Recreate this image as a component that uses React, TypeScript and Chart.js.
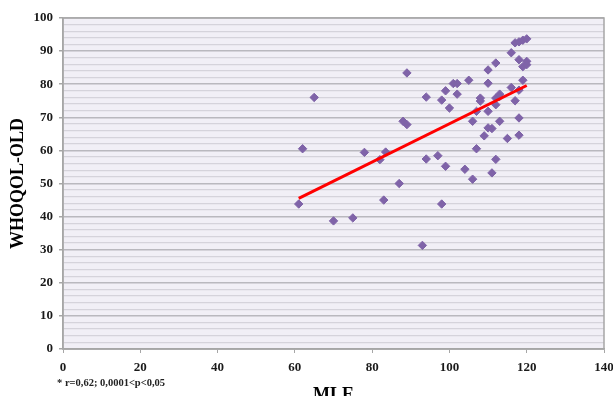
import React, { useEffect, useRef } from "react";
import { Chart, registerables } from "chart.js";

Chart.register(...registerables);

// MLE values (x) and WHOQOL-OLD values (y)
const mleValues: number[] = [
  61, 62, 65, 70, 75, 78, 82, 83.5, 83, 87, 88, 89, 89, 93, 94, 94, 97, 98, 98, 99,
  99, 100, 101, 102, 102, 104, 105, 106, 106, 107, 107, 108, 108, 109, 110, 110, 110, 110, 111, 111,
  112, 112, 112, 112, 113, 113, 113, 115, 116, 116, 117, 117, 118, 118, 118, 118, 118, 119, 119, 119,
  120, 120, 120,
];
const whoqolValues: number[] = [
  43.8, 60.5, 76, 38.7, 39.6, 59.4, 57.2, 59.5, 45, 50, 68.8, 67.8, 83.4, 31.3, 76.1, 57.4, 58.4, 43.8, 75.2, 55.2,
  78, 72.8, 80.2, 80.2, 77, 54.3, 81.2, 68.8, 51.3, 60.5, 71.8, 75.8, 74.9, 64.4, 84.3, 80.3, 71.8, 66.8, 66.6, 53.2,
  57.3, 73.8, 75.8, 86.4, 77, 68.8, 76.3, 63.6, 79, 89.5, 92.5, 75, 92.8, 87.4, 78.2, 69.8, 64.6, 93.3, 85.3, 81.2,
  93.7, 86.9, 85.9,
];

// regression line end points
const trendX: number[] = [61, 120];
const trendY: number[] = [45.5, 79.6];

const xTickStep = 20;
const yTickStep = 2;
const yLabelEvery = 10;
const yTitle = "WHOQOL-OLD";
const xTitle = "MLE";
const footnote = "* r=0,62; 0,0001<p<0,05";

const SERIF = '"Liberation Serif", "Times New Roman", serif';

export default function App() {
  const canvasRef = useRef<HTMLCanvasElement | null>(null);

  useEffect(() => {
    const canvas = canvasRef.current;
    if (!canvas) return;

    const plotBg = {
      id: "plotBg",
      beforeDraw(chart: any) {
        const { ctx, chartArea } = chart;
        ctx.save();
        ctx.fillStyle = "#f1eff6";
        ctx.fillRect(chartArea.left, chartArea.top, chartArea.right - chartArea.left, chartArea.bottom - chartArea.top);
        ctx.restore();
      },
      beforeDatasetsDraw(chart: any) {
        const { ctx, chartArea } = chart;
        ctx.save();
        ctx.strokeStyle = "#a6a6a6";
        ctx.lineWidth = 1.5;
        ctx.strokeRect(chartArea.left, chartArea.top, chartArea.right - chartArea.left, chartArea.bottom - chartArea.top);
        ctx.restore();
      },
      afterDraw(chart: any) {
        const { ctx } = chart;
        ctx.save();
        ctx.fillStyle = "#222";
        ctx.font = `bold 10.5px ${SERIF}`;
        ctx.textBaseline = "alphabetic";
        ctx.textAlign = "left";
        ctx.fillText(footnote, 57, 386);
        ctx.restore();
      },
    };

    const chart = new Chart(canvas, {
      type: "scatter",
      data: {
        datasets: [
          {
            label: "trend",
            data: trendX.map((x, i) => ({ x, y: trendY[i] })),
            showLine: true,
            borderColor: "#ff0000",
            backgroundColor: "#ff0000",
            borderWidth: 3,
            pointRadius: 0,
          },
          {
            label: "data",
            data: mleValues.map((x, i) => ({ x, y: whoqolValues[i] })),
            pointStyle: "rectRot",
            pointRadius: 4.2,
            backgroundColor: "#7f63a8",
            borderColor: "#7f63a8",
            borderWidth: 1,
          },
        ],
      },
      options: {
        animation: false,
        responsive: false,
        maintainAspectRatio: false,
        layout: { padding: { top: 18, right: 9, left: 0, bottom: 0 } },
        plugins: { legend: { display: false }, tooltip: { enabled: false } },
        scales: {
          x: {
            type: "linear",
            min: 0,
            max: 140,
            ticks: {
              stepSize: xTickStep,
              color: "#1a1a1a",
              font: { family: SERIF, size: 13, weight: "bold" },
              padding: 7,
              maxRotation: 0,
            },
            grid: {
              drawOnChartArea: false,
              drawTicks: true,
              tickLength: 4,
              tickColor: "#a6a6a6",
            },
            border: { display: true, color: "#a6a6a6", width: 1.5 },
            title: {
              display: true,
              text: xTitle,
              color: "#000",
              font: { family: SERIF, size: 18, weight: "bold" },
              padding: { top: 0, bottom: -10 },
            },
            afterFit(scale: any) {
              scale.height = 47;
              scale.paddingRight = 0;
              scale.paddingLeft = 0;
            },
          },
          y: {
            type: "linear",
            min: 0,
            max: 100,
            ticks: {
              stepSize: yTickStep,
              color: "#1a1a1a",
              font: { family: SERIF, size: 13, weight: "bold" },
              padding: 6,
              autoSkip: false,
              callback: (v: any) => (Number(v) % yLabelEvery === 0 ? String(v) : ""),
            },
            grid: {
              drawTicks: true,
              tickLength: 4,
              color: (c: any) => (c.tick && c.tick.value % yLabelEvery === 0 ? "#b9b8be" : "#d5d3db"),
              lineWidth: (c: any) => (c.tick && c.tick.value % yLabelEvery === 0 ? 1.5 : 1.3),
              tickColor: (c: any) => (c.tick && c.tick.value % yLabelEvery === 0 ? "#a6a6a6" : "rgba(0,0,0,0)"),
            },
            border: { display: true, color: "#a6a6a6", width: 1.5 },
            title: {
              display: true,
              text: yTitle,
              color: "#000",
              font: { family: SERIF, size: 18, weight: "bold" },
              padding: { top: 8, bottom: 0 },
            },
            afterFit(scale: any) {
              scale.width = 63;
            },
          },
        },
      },
      plugins: [plotBg],
    });

    return () => chart.destroy();
  }, []);

  return (
    <div style={{ position: "fixed", left: 0, top: 0, width: 613, height: 396, background: "#fff" }}>
      <canvas ref={canvasRef} width={613} height={396} style={{ display: "block", width: 613, height: 396 }} />
    </div>
  );
}
